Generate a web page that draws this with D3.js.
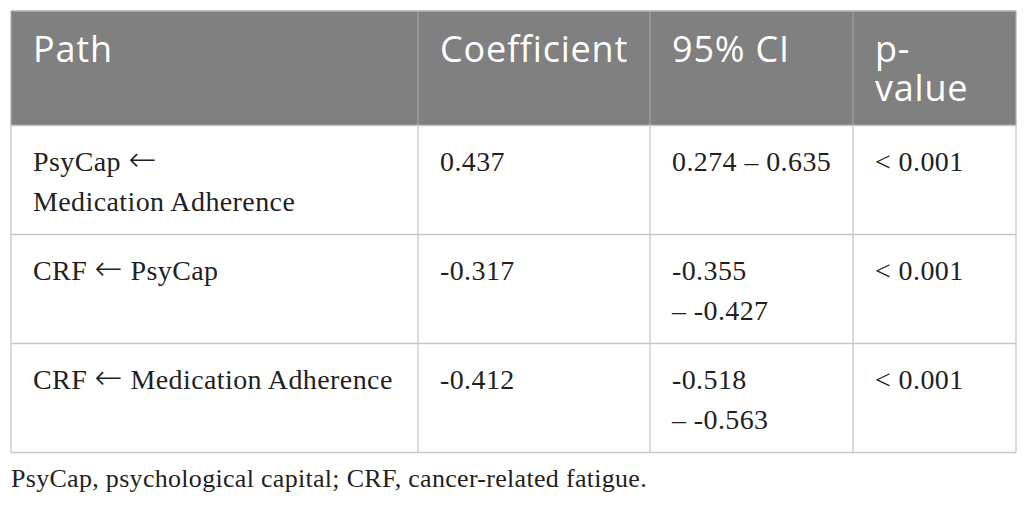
<!DOCTYPE html>
<html><head><meta charset="utf-8">
<script src="https://cdn.jsdelivr.net/npm/d3@7"></script>
<style>html,body{margin:0;padding:0;background:#fff;overflow:hidden;}</style>
</head><body><svg id="c" width="1026" height="505"></svg>
<script>
// ---- data ----
const headers = ["Path", "Coefficient", "95% CI", "p-value"];
const pathTargets = ["PsyCap", "CRF", "CRF"];
const pathSources = ["Medication Adherence", "PsyCap", "Medication Adherence"];
const coefficients = ["0.437", "-0.317", "-0.412"];
const ciLower = ["0.274", "-0.355", "-0.518"];
const ciUpper = ["0.635", "-0.427", "-0.563"];
const pValues = ["< 0.001", "< 0.001", "< 0.001"];
const footnote = "PsyCap, psychological capital; CRF, cancer-related fatigue.";

// ---- layout ----
const svg = d3.select("#c");
const colShares = [407, 232, 203, 163];
const total = d3.sum(colShares);
const x = d3.scaleLinear().domain([0, total]).range([11, 1016]);
const colStart = Array.from(d3.cumsum([0].concat(colShares.slice(0, -1))));
const cols = colShares.map((w, i) => ({ x0: x(colStart[i]), x1: x(colStart[i] + w) }));

const headFont = "'Open Sans', sans-serif";
const headSize = 36, headLS = 0.8;
const bodyFont = "'Liberation Serif', 'Times New Roman', serif";
const bodySize = 28, bodyLS = 0.4;
const arrowFont = "'DejaVu Sans', sans-serif";
const padL = 22;

const meas = svg.append("text").attr("visibility", "hidden");
function textW(s, font, size, ls) {
  meas.attr("font-family", font).attr("font-size", size).attr("letter-spacing", ls).text(s);
  return meas.node().getComputedTextLength();
}
function wrap(tokens, joiner, maxW, font, size, ls) {
  const lines = [];
  let cur = "";
  tokens.forEach(t => {
    const cand = cur === "" ? t : cur + joiner + t;
    if (cur !== "" && textW(cand, font, size, ls) > maxW) { lines.push(cur); cur = t; }
    else cur = cand;
  });
  if (cur !== "") lines.push(cur);
  return lines;
}

// header lines
const headLines = headers.map((h, i) => {
  const w = cols[i].x1 - cols[i].x0 - 41;
  return wrap(h.split(/(?<=-)/), "", w, headFont, headSize, headLS);
});
// body cells
const rows = pathTargets.map((t, r) => {
  const cells = [
    [t + " \u2190", pathSources[r]],
    [coefficients[r]],
    [ciLower[r], "\u2013 " + ciUpper[r]],
    [pValues[r]]
  ];
  return cells.map((tok, i) => wrap(tok, " ", cols[i].x1 - cols[i].x0 - 30, bodyFont, bodySize, bodyLS));
});

const headLH = 38.5, headTop = 51, headBot = 25;
const bodyLH = 40.5, bodyTop = 45, bodyBot = 23.5;
const y0 = 11;
const headH = headTop + (d3.max(headLines, l => l.length) - 1) * headLH + headBot;
const rowH = rows.map(c => bodyTop + (d3.max(c, l => l.length) - 1) * bodyLH + bodyBot);
const rowY = Array.from(d3.cumsum([y0 + headH].concat(rowH.slice(0, -1))));
const yEnd = rowY[rowY.length - 1] + rowH[rowH.length - 1];

// header background
svg.append("rect").attr("x", cols[0].x0).attr("y", y0)
  .attr("width", cols[3].x1 - cols[0].x0).attr("height", headH).attr("fill", "#808080");

// header text
headLines.forEach((lines, i) => {
  const t = svg.append("text").attr("font-family", headFont).attr("font-size", headSize)
    .attr("letter-spacing", headLS).attr("fill", "#ffffff");
  lines.forEach((l, k) => t.append("tspan").attr("x", cols[i].x0 + padL)
    .attr("y", y0 + headTop + k * headLH).text(l));
});

// body text
rows.forEach((cells, r) => {
  cells.forEach((lines, i) => {
    lines.forEach((l, k) => {
      const t = svg.append("text").attr("font-family", bodyFont).attr("font-size", bodySize)
        .attr("letter-spacing", bodyLS).attr("fill", "#231f20")
        .attr("x", cols[i].x0 + padL).attr("y", rowY[r] + bodyTop + k * bodyLH);
      const parts = l.split("\u2190");
      parts.forEach((p, j) => {
        if (j > 0) t.append("tspan").attr("font-family", arrowFont).attr("font-weight", 200)
          .attr("font-size", bodySize * 1.2).text("\u2190");
        if (p) t.append("tspan").text(p);
      });
    });
  });
});

// grid lines
const g = svg.append("g").attr("fill", "none");
cols.slice(1).forEach(c => g.append("line").attr("x1", c.x0).attr("x2", c.x0)
  .attr("y1", y0).attr("y2", y0 + headH).attr("stroke", "#a2a2a2").attr("stroke-width", 1.2));
[cols[0].x0].concat(cols.map(c => c.x1)).forEach(xx => g.append("line")
  .attr("x1", xx).attr("x2", xx).attr("y1", y0 + headH).attr("y2", yEnd)
  .attr("stroke", "#c6c6c6").attr("stroke-width", 1.3));
[cols[0].x0, cols[3].x1].forEach(xx => g.append("line").attr("x1", xx).attr("x2", xx)
  .attr("y1", y0).attr("y2", y0 + headH).attr("stroke", "#b0b0b0").attr("stroke-width", 1.3));
[y0, y0 + headH].concat(rowY.slice(1), [yEnd]).forEach((yy, k) => g.append("line")
  .attr("x1", cols[0].x0).attr("x2", cols[3].x1).attr("y1", yy).attr("y2", yy)
  .attr("stroke", k === 0 ? "#b0b0b0" : "#c6c6c6").attr("stroke-width", 1.3));

// footnote
svg.append("text").attr("x", 11).attr("y", 487).attr("font-family", bodyFont)
  .attr("font-size", 26).attr("letter-spacing", 0.3).attr("fill", "#231f20").text(footnote);
meas.remove();
</script>
</body></html>
